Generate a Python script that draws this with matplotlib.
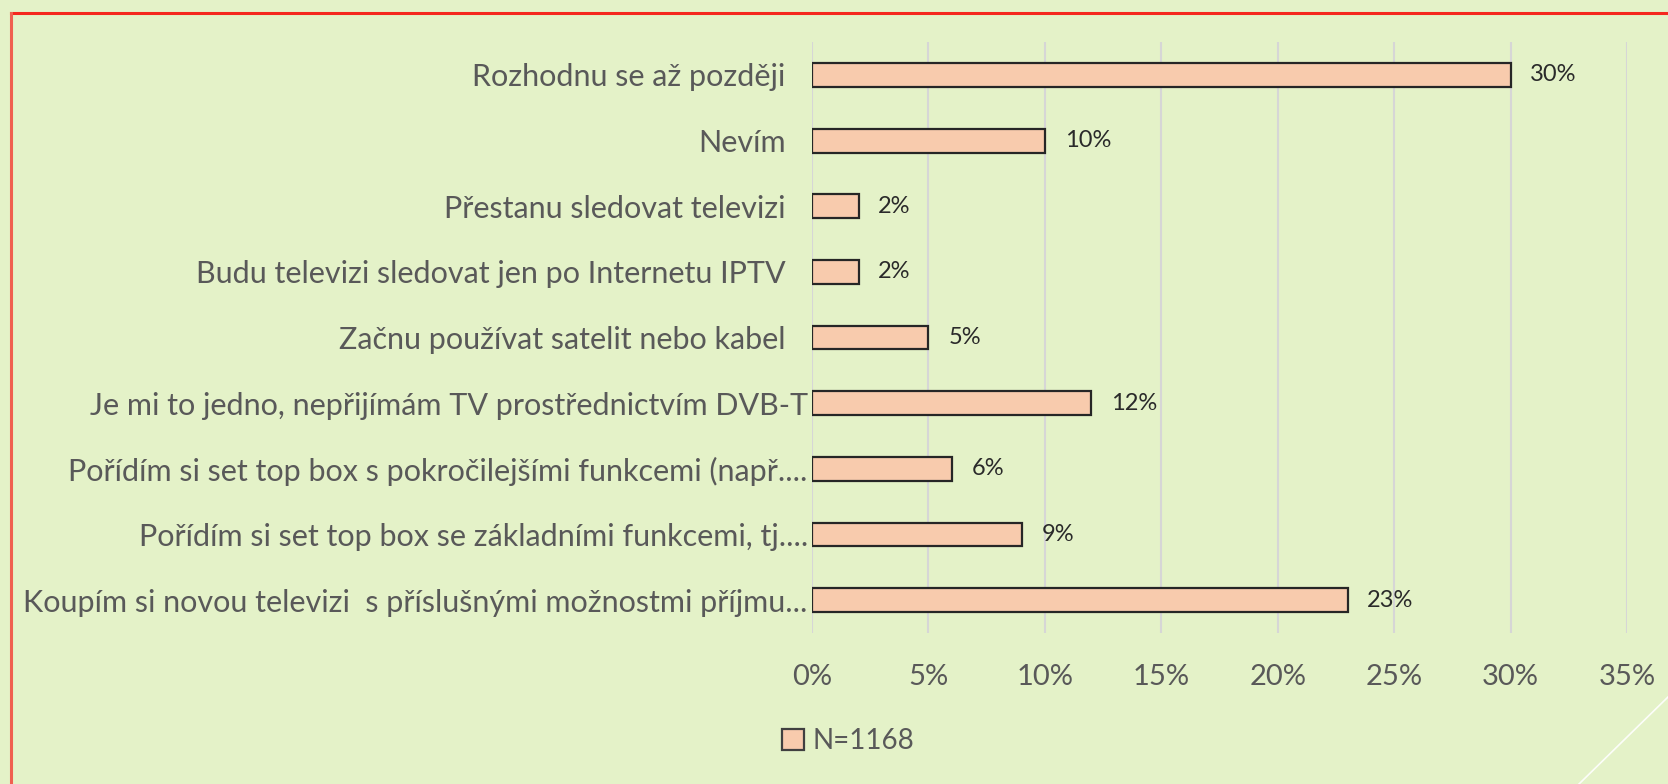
import matplotlib.pyplot as plt
from matplotlib.lines import Line2D
from matplotlib.patches import Patch

# odpovědi (odspodu nahoru) a podíly v %
labels = [
    "Koupím si novou televizi  s příslušnými možnostmi příjmu...",
    "Pořídím si set top box se základními funkcemi, tj....",
    "Pořídím si set top box s pokročilejšími funkcemi (např....",
    "Je mi to jedno, nepřijímám TV prostřednictvím DVB-T",
    "Začnu používat satelit nebo kabel",
    "Budu televizi sledovat jen po Internetu IPTV",
    "Přestanu sledovat televizi",
    "Nevím",
    "Rozhodnu se až později",
]
values = [23, 9, 6, 12, 5, 2, 2, 10, 30]
x_ticks = [0, 5, 10, 15, 20, 25, 30, 35]
legend_label = "N=1168"

bg = '#E4F2C8'
text_col = '#595959'
plt.rcParams['font.family'] = ['Lato', 'DejaVu Sans']

fig = plt.figure(figsize=(16.68, 7.84), dpi=100, facecolor=bg)
ax = fig.add_axes([0.4868, 0.1926, 0.4886, 0.7538], facecolor=bg)

pos = list(range(len(labels)))
ax.barh(pos, values, height=0.365, color='#F8CBAD', edgecolor='#262626', linewidth=1.6, zorder=3)

for y, v in zip(pos, values):
    ax.text(v + 0.85, y, f"{v}%", va='center', ha='left', fontsize=17, color='#2a2a2a')

ax.set_xlim(0, 35)
ax.set_ylim(-0.5, len(labels) - 0.5)
ax.set_xticks(x_ticks)
ax.set_xticklabels([f"{t}%" for t in x_ticks])
ax.set_yticks(pos)
ax.set_yticklabels(labels)
ax.tick_params(axis='y', length=0, labelsize=22, labelcolor=text_col)
ax.tick_params(axis='x', length=0, labelsize=21, labelcolor=text_col, pad=22)
ax.grid(axis='x', color='#D6D6D6', linewidth=1.5, zorder=0)
for s in ax.spines.values():
    s.set_visible(False)

# popisky se zkrácením jsou blíž ose
for i, t in enumerate(ax.yaxis.get_major_ticks()):
    t.set_pad(3 if i < 4 else 19)

handle = Patch(facecolor='#F8CBAD', edgecolor='#404040', linewidth=1.6)
fig.legend([handle], [legend_label], loc='center', bbox_to_anchor=(848 / 1668, 1 - 741 / 784),
           frameon=False, fontsize=20, labelcolor=text_col, handlelength=0.8, handleheight=0.8,
           handletextpad=0.3)

# červený rámeček a bílá diagonála
fig.add_artist(Line2D([11 / 1668, 1], [1 - 13 / 784, 1 - 13 / 784], color='#F5281E', lw=2.2))
fig.add_artist(Line2D([11 / 1668, 11 / 1668], [0, 1 - 13 / 784], color='#F06050', lw=2.2))
fig.add_artist(Line2D([1579 / 1668, 1], [0, 87 / 784], color='white', lw=1.2, alpha=0.9))

fig.savefig('out.png', dpi=100, facecolor=bg)
